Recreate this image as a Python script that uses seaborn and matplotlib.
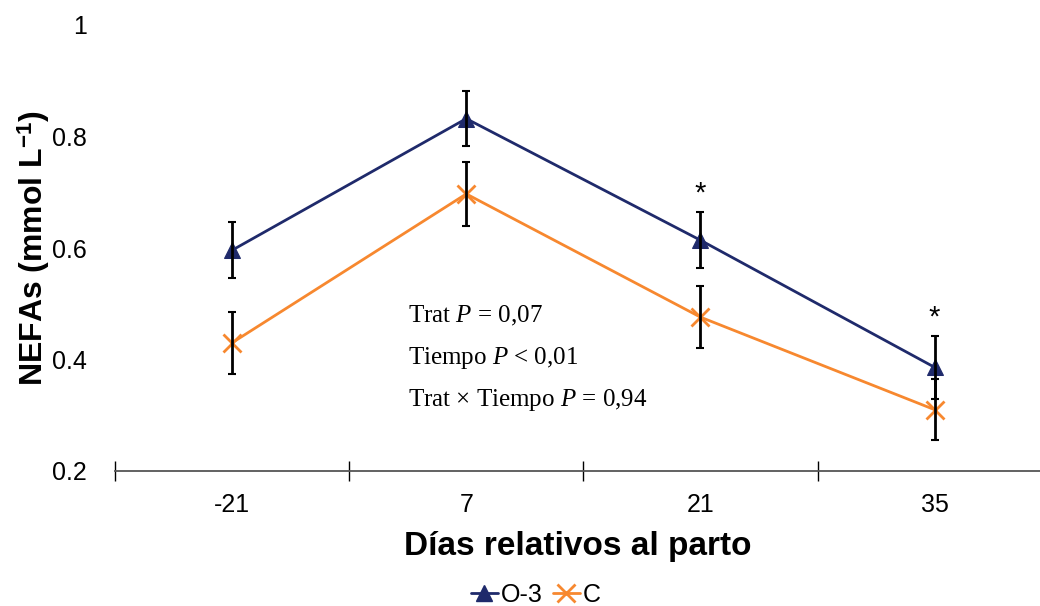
import numpy as np
import pandas as pd
import seaborn as sns
import matplotlib.pyplot as plt
from matplotlib.lines import Line2D

sns.set_theme(style="white")
plt.rcParams['font.family'] = ['Liberation Sans', 'DejaVu Sans']
plt.rcParams['mathtext.fontset'] = 'custom'
plt.rcParams['mathtext.it'] = 'Liberation Serif:italic'
plt.rcParams['mathtext.rm'] = 'Liberation Serif'
plt.rcParams['text.color'] = 'black'
plt.rcParams['axes.labelcolor'] = 'black'
plt.rcParams['xtick.color'] = 'black'
plt.rcParams['ytick.color'] = 'black'

# data
dias = ["-21", "7", "21", "35"]
o3_mean = [0.596, 0.832, 0.614, 0.386]
o3_err = [0.050, 0.049, 0.050, 0.057]
c_mean = [0.430, 0.697, 0.476, 0.310]
c_err = [0.056, 0.058, 0.055, 0.055]
signif = [False, False, True, True]
y_ticks = [0.2, 0.4, 0.6, 0.8, 1.0]
y_tick_labels = ["0.2", "0.4", "0.6", "0.8", "1"]

navy = "#1f2a6b"
orange = "#f7882f"

pos = np.arange(len(dias))
df = pd.DataFrame({
    "pos": np.concatenate([pos, pos]),
    "NEFA": o3_mean + c_mean,
    "grupo": ["O-3"] * 4 + ["C"] * 4,
})

fig = plt.figure(figsize=(10.4, 6.06), dpi=100)
ax = fig.add_axes([115 / 1040, 1 - 471 / 606, (1040 - 115) / 1040, (471 - 25) / 606])

sns.lineplot(data=df, x="pos", y="NEFA", hue="grupo", style="grupo",
             palette={"O-3": navy, "C": orange},
             markers={"O-3": "^", "C": "X"}, dashes=False,
             linewidth=2, legend=False, ax=ax, zorder=2)
# fix marker looks
for line, col in zip(ax.lines, [navy, orange]):
    if col == navy:
        line.set_marker("^")
        line.set_markersize(12)
        line.set_markerfacecolor(navy)
        line.set_markeredgecolor(navy)
    else:
        line.set_marker("x")
        line.set_markersize(13)
        line.set_markeredgewidth(2)
        line.set_markeredgecolor(orange)

ax.errorbar(pos, o3_mean, yerr=o3_err, fmt="none", ecolor="black",
            elinewidth=2, capsize=3, capthick=1.5, zorder=3)
ax.errorbar(pos, c_mean, yerr=c_err, fmt="none", ecolor="black",
            elinewidth=2, capsize=3, capthick=1.5, zorder=3)

for p, m, e, s in zip(pos, o3_mean, o3_err, signif):
    if s:
        ax.text(p, m + e + 0.008, "*", ha="center", va="bottom",
                fontsize=21, color="black")

ax.set_xlim(-0.5, 3.45)
ax.set_ylim(0.2, 1.0)
ax.set_xticks(pos)
ax.set_xticklabels(dias, fontsize=18)
ax.set_xticks(np.arange(-0.5, 3, 1), minor=True)
ax.tick_params(axis="x", which="major", length=0, pad=16)
ax.tick_params(axis="x", which="minor", length=14, width=1,
               direction="inout", color="black", bottom=True)
ax.set_yticks(y_ticks)
ax.set_yticklabels(y_tick_labels, fontsize=18)
ax.tick_params(axis="y", length=0, pad=20)

for side in ["left", "right", "top"]:
    ax.spines[side].set_visible(False)
ax.spines["bottom"].set_color("#555555")
ax.spines["bottom"].set_linewidth(1.3)

ax.set_xlabel("Días relativos al parto", fontsize=24, fontweight="bold", labelpad=10)
ax.set_ylabel("NEFAs (mmol L$^{\\mathregular{-1}}$)", fontsize=23,
              fontweight="bold", labelpad=0)

ann = ["Trat $P$ = 0,07", "Tiempo $P$ < 0,01", "Trat × Tiempo $P$ = 0,94"]
for i, t in enumerate(ann):
    ax.text(0.75, 0.479 - i * 0.076, t, fontsize=18,
            family="Liberation Serif", ha="left", va="center")

handles = [Line2D([0], [0], color=navy, marker="^", markersize=12, lw=2),
           Line2D([0], [0], color=orange, marker="x", markersize=13,
                  markeredgewidth=2, lw=2)]
fig.legend(handles, ["O-3", "C"], loc="lower center",
           bbox_to_anchor=(0.515, -0.038), ncol=2, frameon=False,
           fontsize=18, handlelength=1.1, handletextpad=0.1,
           columnspacing=0.4)

fig.savefig("out.png", dpi=100)
